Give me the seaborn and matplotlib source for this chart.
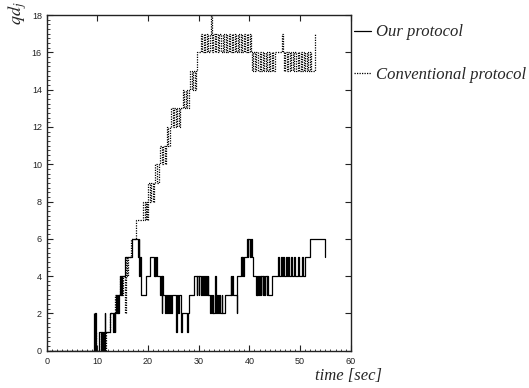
import numpy as np
import pandas as pd
import matplotlib
matplotlib.use("Agg")
import matplotlib.pyplot as plt
from matplotlib.ticker import MultipleLocator
import seaborn as sns

# step-change points (time [sec], qd_j)
our_t = [0.0, 9.6, 9.75, 10.3, 10.7, 10.85, 11.0, 11.15, 11.3, 11.45, 11.6,
         12.5, 13.1, 13.25, 13.4, 13.55, 13.7, 13.85, 14.0, 14.15, 14.3,
         14.5, 14.65, 14.8, 15.4, 16.8, 18.0, 18.15, 18.3, 18.45, 18.55,
         19.6, 20.4, 21.2, 21.3, 21.45, 21.55, 21.7, 22.4, 22.55, 22.7,
         22.85, 23.0, 23.3, 23.45, 23.7, 23.85, 24.1, 24.25, 24.5, 24.65,
         25.6, 25.75, 26.0, 26.15, 26.6, 26.75, 27.7, 27.85, 28.1, 29.1,
         29.6, 29.75, 30.0, 30.15, 30.4, 30.55, 30.8, 30.95, 31.3, 31.45,
         31.6, 31.75, 31.9, 32.3, 32.45, 32.6, 32.75, 32.9, 33.2, 33.35,
         33.6, 33.75, 34.0, 34.15, 34.5, 34.65, 35.2, 36.3, 36.45, 36.6,
         36.8, 37.5, 37.6, 38.3, 38.45, 38.6, 38.75, 38.9, 39.5, 39.65,
         39.8, 40.1, 40.25, 40.5, 40.8, 41.3, 41.45, 41.6, 41.75, 41.9,
         42.05, 42.2, 42.35, 42.6, 42.75, 42.9, 43.05, 43.4, 43.55, 43.7,
         44.4, 45.6, 45.75, 46.2, 46.35, 46.6, 46.75, 47.2, 47.35, 47.7,
         47.85, 48.3, 48.45, 48.9, 49.05, 49.6, 49.75, 50.4, 50.55, 51.0,
         51.9, 54.9]
our_q = [0, 2, 0, 1, 0, 1, 0, 1, 0, 2, 1,
         2, 1, 2, 1, 2, 3, 2, 3, 2, 3,
         4, 3, 4, 5, 6, 5, 6, 4, 5, 3,
         4, 5, 4, 5, 4, 5, 4, 3, 4, 2,
         4, 3, 2, 3, 2, 3, 2, 3, 2, 3,
         1, 3, 2, 3, 1, 2, 1, 2, 3, 4,
         3, 4, 3, 4, 3, 4, 3, 4, 3, 4,
         3, 4, 3, 2, 3, 2, 3, 2, 4, 2,
         3, 2, 3, 2, 3, 2, 3, 4, 3, 4,
         3, 2, 4, 5, 4, 5, 4, 5, 6, 5,
         6, 5, 6, 5, 4, 3, 4, 3, 4, 3,
         4, 3, 4, 3, 4, 3, 4, 3, 4, 3,
         4, 5, 4, 5, 4, 5, 4, 5, 4, 5,
         4, 5, 4, 5, 4, 5, 4, 5, 4, 5,
         6, 5]

conv_t = [0.0, 9.3, 9.4, 9.5, 9.6, 9.7, 10.8, 10.9, 11.1, 11.2, 11.4, 11.5,
          11.7, 12.5, 13.5, 13.6, 13.8, 13.9, 14.0, 14.5, 14.6, 14.75, 14.85,
          15.0, 15.4, 15.55, 15.7, 15.85, 16.0, 16.6, 17.7,
          19.0, 19.3, 19.5, 19.75, 19.9,
          20.0, 20.3, 20.6, 20.9, 21.2,
          21.4, 21.8, 22.1,
          22.4, 22.7, 23.0, 23.3, 23.55,
          23.7, 24.0, 24.3,
          24.6, 24.9, 25.2, 25.5, 25.8, 26.1, 26.4,
          26.8, 27.1, 27.4, 27.7, 28.0,
          28.3, 28.6, 28.9, 29.2, 29.45,
          29.6,
          30.4, 30.7, 31.0, 31.3, 31.6, 31.9, 32.2,
          32.5, 32.6,
          32.9, 33.2, 33.5, 33.8, 34.1, 34.4, 34.7, 35.0, 35.3, 35.6,
          35.9, 36.2, 36.5, 36.8, 37.1, 37.4, 37.7, 38.0, 38.3, 38.6,
          38.9, 39.2, 39.5, 39.8, 40.1, 40.3,
          40.5, 40.8, 41.1, 41.4, 41.7, 42.0, 42.3, 42.6, 42.9, 43.2,
          43.5, 43.8, 44.1, 44.4, 44.7, 45.0,
          46.5, 46.6,
          46.8, 47.1, 47.4, 47.7, 48.0, 48.3, 48.6, 48.9, 49.2, 49.5,
          49.8, 50.1, 50.4, 50.7, 51.0, 51.3, 51.6, 51.9, 52.2,
          52.9]
conv_q = [0, 2, 0, 2, 1, 0, 1, 0, 1, 0, 1, 0,
          1, 2, 3, 2, 3, 2, 3, 4, 3, 4, 3,
          4, 2, 4, 5, 4, 5, 6, 7,
          8, 7, 8, 7, 8,
          9, 8, 9, 8, 9,
          10, 9, 10,
          11, 10, 11, 10, 11,
          12, 11, 12,
          13, 12, 13, 12, 13, 12, 13,
          14, 13, 14, 13, 14,
          15, 14, 15, 14, 15,
          16,
          17, 16, 17, 16, 17, 16, 17,
          18, 16,
          17, 16, 17, 16, 17, 16, 17, 16, 17, 16,
          17, 16, 17, 16, 17, 16, 17, 16, 17, 16,
          17, 16, 17, 16, 17, 16,
          15, 16, 15, 16, 15, 16, 15, 16, 15, 16,
          15, 16, 15, 16, 15, 16,
          17, 16,
          15, 16, 15, 16, 15, 16, 15, 16, 15, 16,
          15, 16, 15, 16, 15, 16, 15, 16, 15,
          17]

series_names = ["Our protocol", "Conventional protocol"]

sns.set_style("ticks")
plt.rcParams["font.family"] = ["Liberation Sans", "DejaVu Sans"]
plt.rcParams["mathtext.fontset"] = "stix"

fig = plt.figure(figsize=(5.29, 3.88), dpi=100)
ax = fig.add_axes([0.0883, 0.0961, 0.5747, 0.8652])

sns.lineplot(x=our_t, y=our_q, ax=ax, color="black", linewidth=0.9,
             drawstyle="steps-post", estimator=None, sort=False,
             label=series_names[0])
sns.lineplot(x=conv_t, y=conv_q, ax=ax, color="black", linewidth=0.9,
             linestyle=(0, (1, 1)), drawstyle="steps-post", estimator=None,
             sort=False, label=series_names[1])

ax.set_xlim(0, 60)
ax.set_ylim(0, 18)
ax.xaxis.set_major_locator(MultipleLocator(10))
ax.xaxis.set_minor_locator(MultipleLocator(1))
ax.yaxis.set_major_locator(MultipleLocator(2))
ax.yaxis.set_minor_locator(MultipleLocator(0.25))
ax.tick_params(which="major", direction="in", length=4, width=0.8,
               top=True, right=True, labelsize=6.5, colors="#222222")
ax.tick_params(axis="x", which="major", pad=4.5)
ax.tick_params(axis="y", which="major", pad=3.5)
ax.tick_params(which="minor", direction="in", length=1.8, width=0.6,
               top=False, right=False, color="#222222")
for sp in ax.spines.values():
    sp.set_visible(True)
    sp.set_linewidth(1.0)
    sp.set_color("#222222")
ax.set_xlabel("")
ax.set_ylabel("")

serif = ["Liberation Serif", "DejaVu Serif"]
leg = ax.legend(loc="upper left", bbox_to_anchor=(0.669, 0.937),
                bbox_transform=fig.transFigure, frameon=False,
                prop={"family": serif, "style": "italic", "size": 12},
                handlelength=1.0, handletextpad=0.3, labelspacing=1.6,
                borderpad=0, borderaxespad=0)

fig.text(348.5 / 529, 1 - 376 / 388, "time [sec]", ha="center", va="center",
         family=serif, style="italic", fontsize=12)
fig.text(0.012, 0.995, r"$qd_j$", ha="left", va="top", rotation=90,
         fontsize=13)

fig.savefig("out.png", dpi=100)
